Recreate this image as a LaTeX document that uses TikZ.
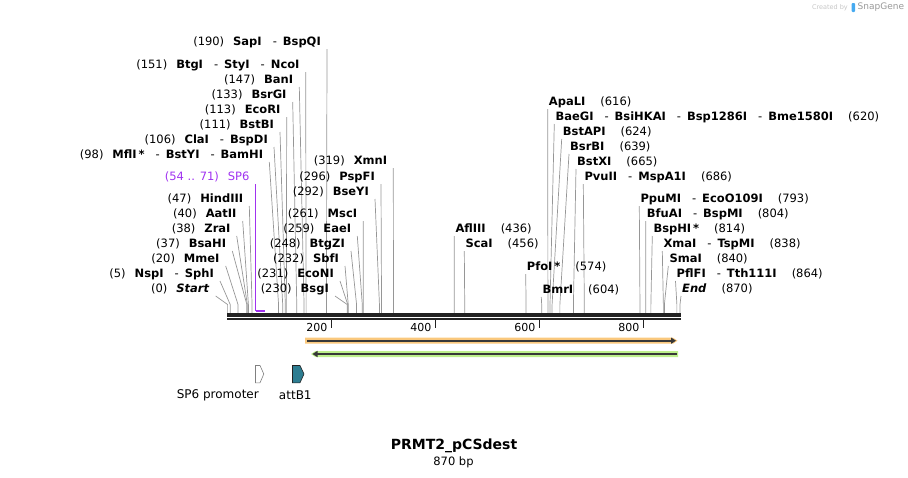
\documentclass[tikz,border=0pt]{standalone}
\usepackage{fontspec}
\setmainfont{DejaVu Sans}
\usetikzlibrary{arrows.meta}

\definecolor{leadgray}{RGB}{150,150,150}
\definecolor{axisdark}{RGB}{34,34,34}
\definecolor{primerpurple}{RGB}{160,50,240}
\definecolor{attteal}{RGB}{45,125,145}
\definecolor{bandorange}{RGB}{250,200,125}
\definecolor{bandgreen}{RGB}{190,240,140}
\definecolor{logoblue}{RGB}{70,170,240}

\newcommand{\sep}{\hspace{11pt}-\hspace{6pt}}

\begin{document}
\begin{tikzpicture}[x=1pt,y=-1pt,
  leader/.style={draw=leadgray,line width=0.7pt},
  lbl/.style={inner sep=0pt,font=\fontsize{11.5}{13}\selectfont},
  ticklbl/.style={inner sep=0pt,font=\fontsize{11}{12}\selectfont},
  featlbl/.style={inner sep=0pt,font=\fontsize{12}{13}\selectfont}]
\useasboundingbox (0,0) rectangle (908,477);

% sites with the label on the left
\foreach \n/\p/\y/\x/\t in {
  sapI/190/42/327/{\textbf{SapI}\sep\textbf{BspQI}},
  btgI/151/65/305.7/{\textbf{BtgI}\sep\textbf{StyI}\sep\textbf{NcoI}},
  banI/147/80/299.3/{\textbf{BanI}},
  bsrGI/133/95/292.7/{\textbf{BsrGI}},
  ecoRI/113/110/286.7/{\textbf{EcoRI}},
  bstBI/111/125/280/{\textbf{BstBI}},
  claI/106/140/274/{\textbf{ClaI}\sep\textbf{BspDI}},
  mflI/98/155/269.3/{\textbf{MflI\,*}\sep\textbf{BstYI}\sep\textbf{BamHI}},
  hindIII/47/199/249.3/{\textbf{HindIII}},
  aatII/40/214/242.7/{\textbf{AatII}},
  zraI/38/229/236.7/{\textbf{ZraI}},
  bsaHI/37/244/232.3/{\textbf{BsaHI}},
  mmeI/20/259/225.7/{\textbf{MmeI}},
  nspI/5/274/220/{\textbf{NspI}\sep\textbf{SphI}},
  start/0/289/215.7/{\textbf{\textit{Start}}},
  xmnI/319/161/393.3/{\textbf{XmnI}},
  pspFI/296/177/381/{\textbf{PspFI}},
  bseYI/292/192/375/{\textbf{BseYI}},
  mscI/261/214/363.3/{\textbf{MscI}},
  eaeI/259/229/357.3/{\textbf{EaeI}},
  btgZI/248/244/351/{\textbf{BtgZI}},
  sbfI/232/259/345/{\textbf{SbfI}},
  ecoNI/231/274/340/{\textbf{EcoNI}},
  bsgI/230/289/335/{\textbf{BsgI}}}{
  \node[lbl,anchor=east] (l\n) at (\x-6,\y) {(\p)\hspace{9pt}\t};
  \coordinate (s\n) at ({227.6+0.52*\p},313.5);
  \draw[leader] ([xshift=6pt,yshift=-7pt]l\n.east) -- ([yshift=9pt]s\n) -- (s\n);
}

% sites with the label on the right
\foreach \n/\p/\y/\x/\t in {
  aflIII/436/229/454.3/{\textbf{AflIII}},
  scaI/456/244/464.3/{\textbf{ScaI}},
  apaLI/616/102/547.7/{\textbf{ApaLI}},
  baeGI/620/117/554.3/{\textbf{BaeGI}\sep\textbf{BsiHKAI}\sep\textbf{Bsp1286I}\sep\textbf{Bme1580I}},
  bstAPI/624/132/561.7/{\textbf{BstAPI}},
  bsrBI/639/147/569/{\textbf{BsrBI}},
  bstXI/665/162/576/{\textbf{BstXI}},
  pvuII/686/177/583.3/{\textbf{PvuII}\sep\textbf{MspA1I}},
  pfoI/574/267/525.7/{\textbf{PfoI\,*}},
  bmrI/604/290/541.3/{\textbf{BmrI}},
  ppuMI/793/199/639.3/{\textbf{PpuMI}\sep\textbf{EcoO109I}},
  bfuAI/804/214/645.7/{\textbf{BfuAI}\sep\textbf{BspMI}},
  bspHI/814/229/652.3/{\textbf{BspHI\,*}},
  xmaI/838/244/662.3/{\textbf{XmaI}\sep\textbf{TspMI}},
  smaI/840/259/668.3/{\textbf{SmaI}},
  pflFI/864/274/675.5/{\textbf{PflFI}\sep\textbf{Tth111I}},
  end/870/289/681/{\textbf{\textit{End}}}}{
  \node[lbl,anchor=west] (l\n) at (\x+1,\y) {\t\hspace{15pt}(\p)};
  \coordinate (s\n) at ({227.6+0.52*\p},313.5);
  \draw[leader] ([xshift=-1pt,yshift=-7pt]l\n.west) -- ([yshift=9pt]s\n) -- (s\n);
}

% primer
\node[lbl,anchor=east,text=primerpurple] (sp6) at (249.7,177) {(54 .. 71)\hspace{9pt}SP6};
\coordinate (p1) at (255.7,311);
\coordinate (p2) at (264.5,311);
\draw[primerpurple,line width=0.8pt] ([xshift=6pt,yshift=-7pt]sp6.east) -- (p1);
\draw[primerpurple,line width=2pt] (p1) -- (p2);

% sequence
\draw[axisdark,line width=3.3pt] (227,315) -- (681,315);
\draw[axisdark,line width=2.3pt] (227,318.8) -- (681,318.8);
\foreach \k in {200,400,600,800}{
  \draw[axisdark,line width=1.6pt] ({227.6+0.52*\k},320) -- ({227.6+0.52*\k},327.5);
  \node[ticklbl,anchor=east] at ({227.6+0.52*\k-4},327) {\k};
}

% features
\fill[bandorange] (305,337.7) -- (673,337.7) -- (677.5,340.7) -- (673,343.7) -- (305,343.7) -- cycle;
\draw[axisdark!90,line width=1.8pt,-{Triangle[length=5pt,width=6pt]}] (307,340.7) -- (676,340.7);
\fill[bandgreen] (311,354) -- (315.5,351) -- (678,351) -- (678,357) -- (315.5,357) -- cycle;
\draw[axisdark!90,line width=1.8pt,-{Triangle[length=5pt,width=6pt]}] (676.5,354) -- (312.5,354);

\draw[draw=gray,fill=white,line width=0.6pt] (255.5,365.5) -- (260,365.5) -- (263.8,374) -- (260,382.8) -- (255.5,382.8) -- cycle;
\draw[draw=axisdark,fill=attteal,line width=0.6pt] (292.5,365.5) -- (300,365.5) -- (304,374) -- (300,382.8) -- (292.5,382.8) -- cycle;
\node[featlbl] (sp6prom) at (217.8,395.7) {SP6 promoter};
\node[featlbl] (attb) at (295.3,395.7) {attB1};

% title
\node[inner sep=0pt,font=\fontsize{14}{15}\selectfont\bfseries] (title) at (454,445.7) {PRMT2\_pCSdest};
\node[inner sep=0pt,font=\fontsize{11.5}{12}\selectfont] (len) at (453.5,462) {870 bp};

% logo
\node[inner sep=0pt,font=\fontsize{6.5}{7}\selectfont,text=gray!45,anchor=east] (made) at (848,7.5) {Created by};
\fill[logoblue,rounded corners=1pt] (851.5,3) rectangle (855,12);
\node[inner sep=0pt,font=\fontsize{9}{10}\selectfont,text=gray!80,anchor=west] (sg) at (857.5,7.5) {SnapGene};
\end{tikzpicture}
\end{document}
